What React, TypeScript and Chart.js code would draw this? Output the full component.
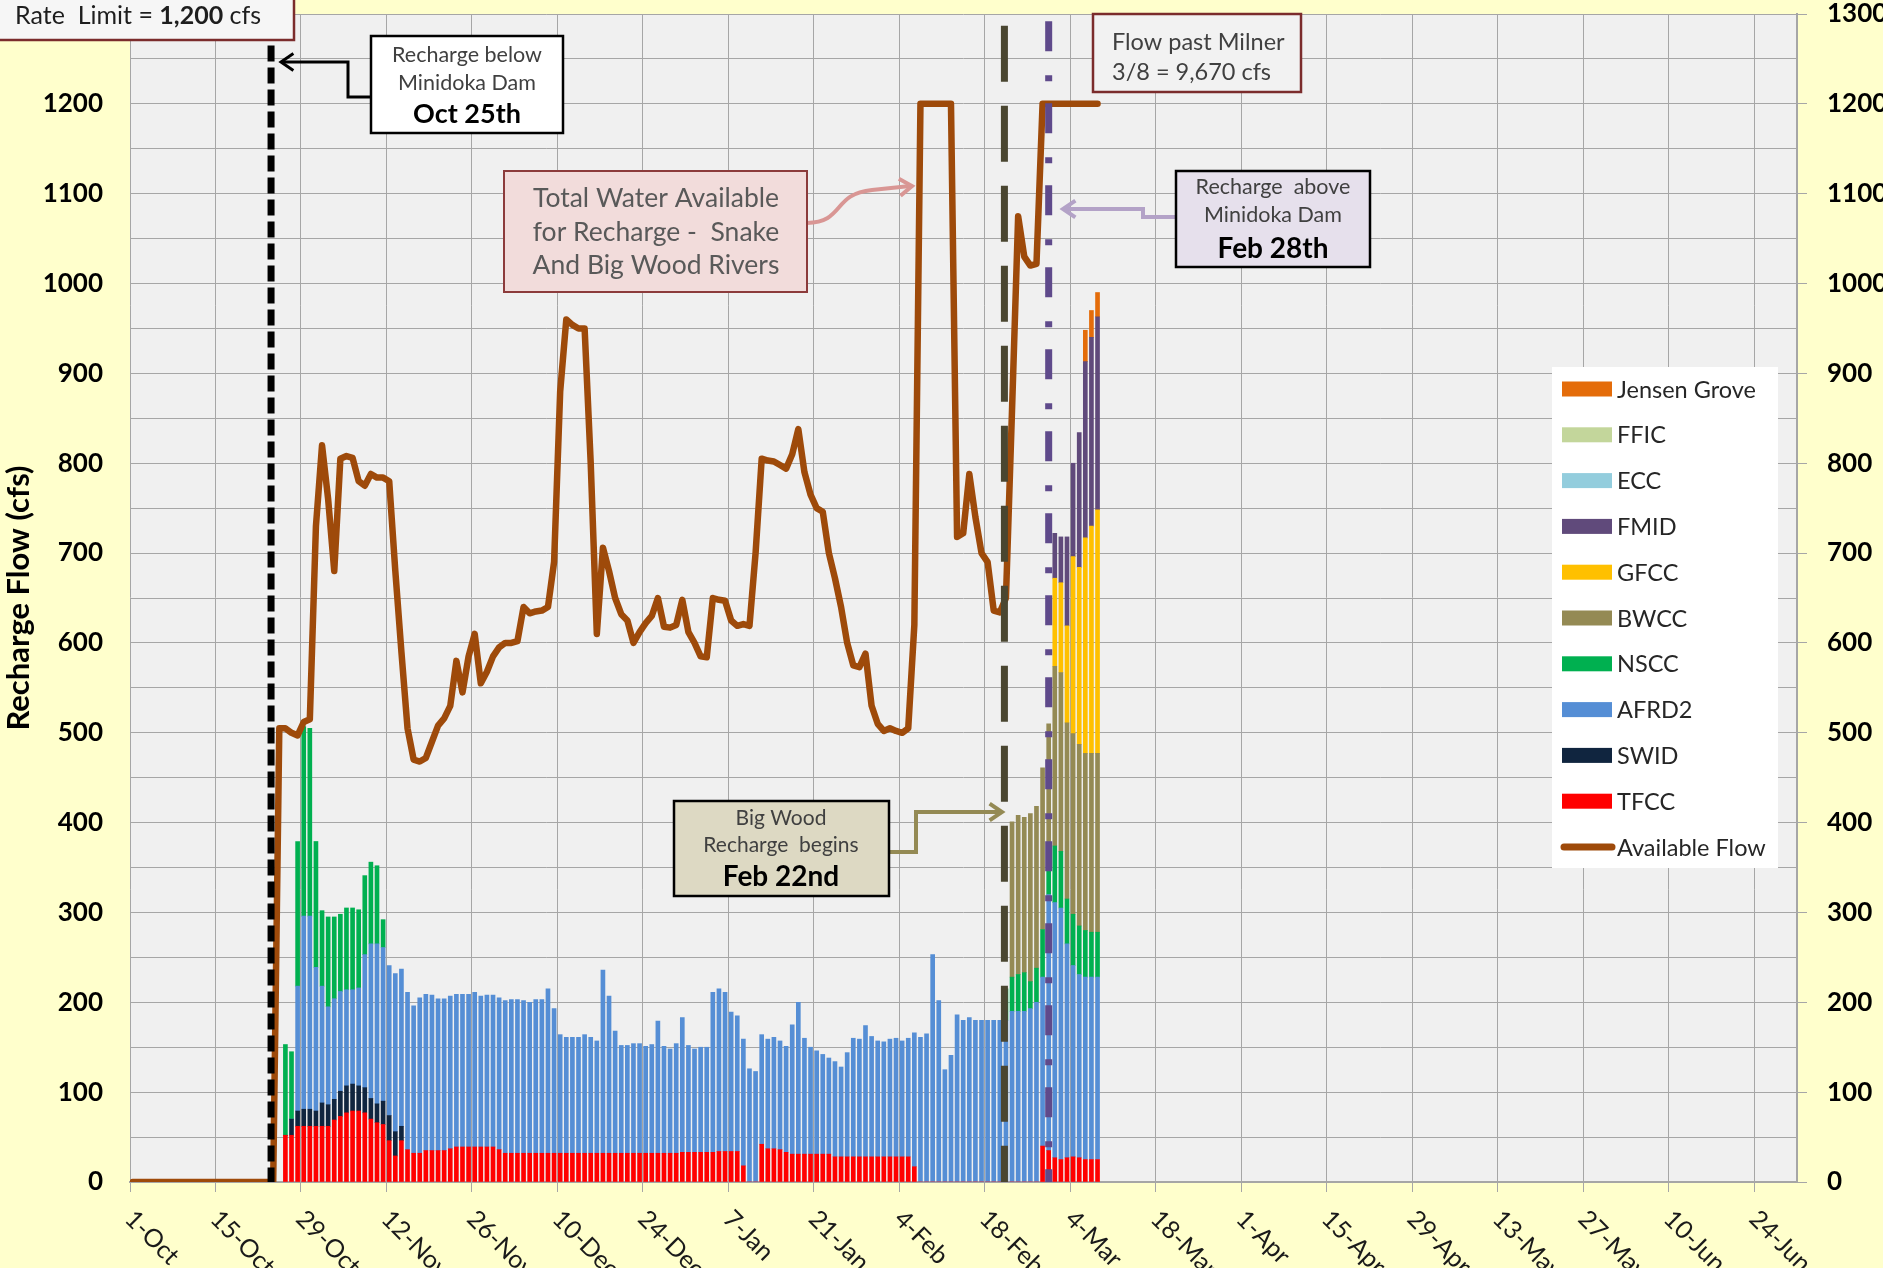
import { useEffect, useRef } from 'react';
import { Chart, registerables } from 'chart.js';

Chart.register(...registerables);

const W = 1883;
const H = 1268;
const FONT = 'Lato, "Open Sans", sans-serif';

// ---------- axes ----------
const X_MAX_DAY = 273; // days after 1-Oct (axis ends at 1-Jul)
const TICK_STEP_DAYS = 14;
const TICK_LABELS = ['1-Oct', '15-Oct', '29-Oct', '12-Nov', '26-Nov', '10-Dec', '24-Dec', '7-Jan', '21-Jan', '4-Feb', '18-Feb', '4-Mar', '18-Mar', '1-Apr', '15-Apr', '29-Apr', '13-May', '27-May', '10-Jun', '24-Jun'];
const Y_MAX = 1300;
const DAY_CENTER = 0.45;

// ---------- daily recharge (cfs), bars start 26-Oct (day 25) ----------
const BAR_START_DAY = 25;
const TFCC = [
  52, 52, 62, 62, 62, 62, 62, 62, 69, 73,
  77, 79, 79, 77, 70, 66, 64, 46, 29, 46,
  36, 32, 32, 35, 35, 35, 35, 37, 39, 39,
  39, 39, 39, 39, 39, 36, 32, 32, 32, 32,
  32, 32, 32, 32, 32, 32, 32, 32, 32, 32,
  32, 32, 32, 32, 32, 32, 32, 32, 32, 32,
  32, 32, 32, 32, 32, 33, 33, 33, 33, 33,
  33, 34, 34, 34, 34, 18, 0, 0, 42, 37,
  37, 36, 33, 31, 31, 31, 31, 31, 31, 31,
  28, 28, 28, 28, 28, 28, 28, 28, 28, 28,
  28, 28, 28, 17, 0, 0, 0, 0, 0, 0,
  0, 0, 0, 0, 0, 0, 0, 0, 0, 0,
  0, 0, 0, 0, 40, 35, 27, 25, 27, 28,
  27, 25, 25, 25,
];
const SWID = [0, 18, 17, 19, 19, 17, 26, 24, 23, 28, 30, 30, 28, 28, 23, 21, 26, 28, 27, 16];
const AFRD2 = [
  0, 0, 139, 215, 215, 160, 130, 109, 112, 111,
  107, 105, 109, 148, 172, 178, 171, 167, 176, 175,
  175, 164, 173, 174, 173, 169, 169, 170, 170, 170,
  170, 172, 168, 169, 169, 169, 170, 171, 171, 170,
  168, 171, 171, 183, 161, 132, 129, 129, 129, 132,
  129, 125, 204, 175, 136, 120, 120, 122, 122, 119,
  121, 147, 119, 116, 122, 150, 119, 115, 117, 117,
  178, 181, 177, 155, 151, 141, 126, 123, 122, 122,
  124, 121, 118, 144, 169, 129, 119, 115, 111, 107,
  106, 100, 116, 132, 131, 146, 134, 129, 128, 131,
  132, 129, 132, 149, 161, 165, 253, 202, 125, 141,
  186, 180, 183, 180, 180, 180, 180, 180, 180, 190,
  190, 190, 193, 200, 188, 285, 284, 280, 238, 213,
  204, 203, 203, 203,
];
const NSCC_EARLY = [101, 75, 161, 211, 209, 140, 84, 100, 91, 86, 91, 91, 87, 88, 91, 87, 31];
const NSCC_LATE_START_DAY = 143;
const NSCC_LATE = [35, 38, 41, 43, 30, 38, 53, 45, 63, 63, 50, 57, 54, 52, 50, 50];
const BWCC_START_DAY = 144;
const BWCC = [173, 177, 173, 187, 180, 180, 145, 200, 199, 196, 201, 202, 197, 199, 199];
const GFCC_START_DAY = 151;
const GFCC = [98, 100, 108, 197, 197, 240, 253, 271];
const FMID_START_DAY = 151;
const FMID = [50, 51, 99, 104, 150, 196, 210, 215];
const ECC: number[] = [];
const FFIC: number[] = [];
const JENSEN_START_DAY = 156;
const JENSEN_GROVE = [35, 30, 27];

// ---------- available flow (cfs), from 1-Oct (day 0) ----------
const FLOW_START_DAY = 0;
const AVAILABLE_FLOW = [
  0, 0, 0, 0, 0, 0, 0, 0, 0, 0, 0, 0, 0, 0, 0, 0, 0, 0, 0, 0, 0, 0, 0, 0,
  505, 505, 500, 497, 512, 515, 730, 820, 760, 680,
  805, 808, 806, 780, 775, 788, 784, 784, 780, 680,
  590, 505, 470, 468, 472, 490, 508, 516, 530, 580,
  545, 585, 610, 555, 568, 585, 595, 600, 600, 602,
  640, 633, 635, 636, 640, 690, 880, 960, 954, 950,
  950, 800, 610, 706, 680, 650, 632, 625, 600, 612,
  622, 630, 650, 618, 617, 620, 648, 612, 600, 585,
  584, 650, 648, 647, 625, 619, 621, 619, 700, 805,
  803, 802, 798, 794, 810, 838, 790, 765, 750, 746,
  700, 672, 640, 600, 575, 573, 588, 530, 510, 502,
  505, 502, 500, 505, 620, 1200, 1200, 1200, 1200, 1200,
  1200, 718, 722, 788, 740, 700, 690, 636, 634, 650,
  860, 1075, 1030, 1020, 1022, 1200, 1200, 1200, 1200, 1200,
  1200, 1200, 1200, 1200, 1200,
];

// ---------- event markers (day after 1-Oct) ----------
const EVENT_LINES = [
  { day: 23.1, top: 1265, color: '#000000', width: 7, dash: [16, 6] },
  { day: 143.2, top: 1287, color: '#4A4630', width: 7, dash: [56, 24] },
  { day: 150.45, top: 1292, color: '#5F4A8B', width: 7, dash: [30, 24, 6, 22] },
];

function pts(start: number, values: number[]) {
  return values.map((v, i) => ({ x: start + i + DAY_CENTER, y: v }));
}

function bar(label: string, color: string, data: { x: number; y: number }[]) {
  return {
    type: 'bar' as const,
    label,
    data,
    backgroundColor: color,
    borderWidth: 0,
    barThickness: 4,
    xAxisID: 'x',
    yAxisID: 'y',
    order: 1,
  };
}

function drawText(ctx: CanvasRenderingContext2D, s: string, x: number, y: number, size: number, bold: boolean, color: string, align: CanvasTextAlign = 'center') {
  ctx.font = `${bold ? 'bold ' : ''}${size}px ${FONT}`;
  ctx.fillStyle = color;
  ctx.textAlign = align;
  ctx.textBaseline = 'middle';
  ctx.fillText(s, x, y);
}

function drawBox(ctx: CanvasRenderingContext2D, x: number, y: number, w: number, h: number, fill: string, stroke: string, lw: number) {
  ctx.fillStyle = fill;
  ctx.fillRect(x, y, w, h);
  ctx.strokeStyle = stroke;
  ctx.lineWidth = lw;
  ctx.setLineDash([]);
  ctx.strokeRect(x, y, w, h);
}

function arrowHead(ctx: CanvasRenderingContext2D, tx: number, ty: number, angle: number, len: number) {
  ctx.beginPath();
  ctx.moveTo(tx - len * Math.cos(angle - 0.6), ty - len * Math.sin(angle - 0.6));
  ctx.lineTo(tx, ty);
  ctx.lineTo(tx - len * Math.cos(angle + 0.6), ty - len * Math.sin(angle + 0.6));
  ctx.stroke();
}

const backgroundPlugin = {
  id: 'bgPlot',
  beforeDraw(chart: any) {
    const { ctx, chartArea: a } = chart;
    ctx.save();
    ctx.fillStyle = '#FFFFCC';
    ctx.fillRect(0, 0, chart.width, chart.height);
    ctx.fillStyle = '#F0F0F0';
    ctx.fillRect(a.left, a.top, a.right - a.left, a.bottom - a.top);
    ctx.restore();
  },
};

const eventLinesPlugin = {
  id: 'eventLines',
  afterDatasetsDraw(chart: any) {
    const { ctx } = chart;
    const xs = chart.scales.x;
    const ys = chart.scales.y;
    for (const ev of EVENT_LINES) {
      const x = xs.getPixelForValue(ev.day);
      ctx.save();
      ctx.strokeStyle = ev.color;
      ctx.lineWidth = ev.width;
      ctx.setLineDash(ev.dash);
      ctx.beginPath();
      ctx.moveTo(x, ys.getPixelForValue(ev.top));
      ctx.lineTo(x, ys.getPixelForValue(0));
      ctx.stroke();
      ctx.restore();
    }
  },
};

const overlayPlugin = {
  id: 'overlay',
  afterDraw(chart: any) {
    const { ctx } = chart;
    const xs = chart.scales.x;
    ctx.save();

    // rotated x tick labels
    const axisY = xs.top;
    TICK_LABELS.forEach((lab, i) => {
      const x = xs.getPixelForValue(i * TICK_STEP_DAYS);
      ctx.save();
      ctx.translate(x + 8, axisY + 24);
      ctx.rotate(Math.PI / 4);
      ctx.font = `25px ${FONT}`;
      ctx.fillStyle = '#1A1A1A';
      ctx.textAlign = 'left';
      ctx.textBaseline = 'top';
      ctx.fillText(lab, 0, 0);
      ctx.restore();
    });

    // connectors
    ctx.lineCap = 'butt';
    ctx.lineJoin = 'miter';
    ctx.setLineDash([]);
    // Oct 25 (black)
    ctx.strokeStyle = '#000000';
    ctx.lineWidth = 3;
    ctx.beginPath();
    ctx.moveTo(371, 97); ctx.lineTo(348, 97); ctx.lineTo(348, 62); ctx.lineTo(282, 62);
    ctx.stroke();
    arrowHead(ctx, 281, 62, Math.PI, 15);
    // Total water (pink curve)
    ctx.strokeStyle = '#D99694';
    ctx.lineWidth = 4;
    ctx.beginPath();
    ctx.moveTo(807, 223);
    ctx.bezierCurveTo(845, 222, 832, 194, 872, 190);
    ctx.lineTo(910, 186);
    ctx.stroke();
    arrowHead(ctx, 912, 186, -0.1, 15);
    // Feb 28 (lavender)
    ctx.strokeStyle = '#B3A2C7';
    ctx.lineWidth = 4;
    ctx.beginPath();
    ctx.moveTo(1176, 217); ctx.lineTo(1143, 217); ctx.lineTo(1143, 209); ctx.lineTo(1065, 209);
    ctx.stroke();
    arrowHead(ctx, 1063, 209, Math.PI, 15);
    // Feb 22 (olive)
    ctx.strokeStyle = '#948A54';
    ctx.lineWidth = 4;
    ctx.beginPath();
    ctx.moveTo(889, 852); ctx.lineTo(916, 852); ctx.lineTo(916, 812); ctx.lineTo(1000, 812);
    ctx.stroke();
    arrowHead(ctx, 1002, 812, 0, 15);

    // boxes
    drawBox(ctx, -2, -3, 296, 43, '#F6F6F6', '#7B2C2C', 2.5);
    let tx = 15;
    const parts: [string, boolean][] = [['Rate  Limit = ', false], ['1,200', true], [' cfs', false]];
    for (const [s, b] of parts) {
      drawText(ctx, s, tx, 16, 25, b, '#1E1E1E', 'left');
      tx += ctx.measureText(s).width;
    }

    drawBox(ctx, 371, 36, 192, 97, '#FFFFFF', '#000000', 2.5);
    drawText(ctx, 'Recharge below', 467, 55, 21.5, false, '#404040');
    drawText(ctx, 'Minidoka Dam', 467, 83, 21.5, false, '#404040');
    drawText(ctx, 'Oct 25th', 467, 114, 27, true, '#000000');

    drawBox(ctx, 504, 171, 303, 121, '#F2DCDB', '#8C3B3B', 2);
    drawText(ctx, 'Total Water Available', 656, 198, 26.5, false, '#595959');
    drawText(ctx, 'for Recharge -  Snake', 656, 232, 26.5, false, '#595959');
    drawText(ctx, 'And Big Wood Rivers', 656, 265, 26.5, false, '#595959');

    drawBox(ctx, 1093, 14, 208, 78, '#F2F2F2', '#7B2C2C', 2.5);
    drawText(ctx, 'Flow past Milner', 1112, 42, 23.5, false, '#404040', 'left');
    drawText(ctx, '3/8 = 9,670 cfs', 1112, 72, 23.5, false, '#404040', 'left');

    drawBox(ctx, 1176, 171, 194, 96, '#E6E0EC', '#000000', 2.5);
    drawText(ctx, 'Recharge  above', 1273, 187, 21.5, false, '#404040');
    drawText(ctx, 'Minidoka Dam', 1273, 215, 21.5, false, '#404040');
    drawText(ctx, 'Feb 28th', 1273, 249, 28, true, '#000000');

    drawBox(ctx, 674, 801, 215, 95, '#DDD9C3', '#000000', 2.5);
    drawText(ctx, 'Big Wood', 781, 818, 21, false, '#404040');
    drawText(ctx, 'Recharge  begins', 781, 845, 21, false, '#404040');
    drawText(ctx, 'Feb 22nd', 781, 877, 28, true, '#000000');

    // legend
    ctx.fillStyle = '#FFFFFF';
    ctx.fillRect(1552, 367, 226, 501);
    const ds = chart.data.datasets;
    const barSets = ds.filter((d: any) => d.type === 'bar').slice().reverse();
    const lineSets = ds.filter((d: any) => d.type === 'line');
    const items = [...barSets, ...lineSets];
    items.forEach((d: any, k: number) => {
      const cy = 389 + k * 45.8;
      if (d.type === 'bar') {
        ctx.fillStyle = d.backgroundColor;
        ctx.fillRect(1562, cy - 7.5, 50, 15);
      } else {
        ctx.strokeStyle = d.borderColor;
        ctx.lineWidth = 7;
        ctx.lineCap = 'round';
        ctx.beginPath();
        ctx.moveTo(1564, cy);
        ctx.lineTo(1612, cy);
        ctx.stroke();
      }
      drawText(ctx, d.label, 1617, cy + 1, 23.5, false, '#262626', 'left');
    });

    ctx.restore();
  },
};

export default function App() {
  const ref = useRef<HTMLCanvasElement>(null);

  useEffect(() => {
    const canvas = ref.current;
    if (!canvas) return;

    const datasets: any[] = [
      {
        type: 'line',
        label: 'Available Flow',
        data: pts(FLOW_START_DAY, AVAILABLE_FLOW),
        borderColor: '#9E4A0A',
        backgroundColor: '#9E4A0A',
        borderWidth: 6.5,
        pointRadius: 0,
        tension: 0,
        fill: false,
        borderJoinStyle: 'round',
        borderCapStyle: 'round',
        xAxisID: 'x',
        yAxisID: 'y2',
        order: -1,
      },
      bar('TFCC', '#FF0000', pts(BAR_START_DAY, TFCC)),
      bar('SWID', '#10253F', pts(BAR_START_DAY, SWID)),
      bar('AFRD2', '#558ED5', pts(BAR_START_DAY, AFRD2)),
      bar('NSCC', '#00B050', [...pts(BAR_START_DAY, NSCC_EARLY), ...pts(NSCC_LATE_START_DAY, NSCC_LATE)]),
      bar('BWCC', '#948A54', pts(BWCC_START_DAY, BWCC)),
      bar('GFCC', '#FFC000', pts(GFCC_START_DAY, GFCC)),
      bar('FMID', '#604A7B', pts(FMID_START_DAY, FMID)),
      bar('ECC', '#93CDDD', pts(BAR_START_DAY, ECC)),
      bar('FFIC', '#C3D69B', pts(BAR_START_DAY, FFIC)),
      bar('Jensen Grove', '#E46C0A', pts(JENSEN_START_DAY, JENSEN_GROVE)),
    ];

    const tickFont = { family: FONT, size: 26, weight: 'bold' as const };
    const noPad = (scale: any) => {
      scale.paddingTop = 0;
      scale.paddingBottom = 0;
      scale.paddingLeft = 0;
      scale.paddingRight = 0;
    };

    const chart = new Chart(canvas, {
      type: 'bar',
      data: { datasets },
      options: {
        responsive: false,
        animation: false,
        devicePixelRatio: 1,
        layout: { padding: { top: 14, left: 0, right: 0, bottom: 0 } },
        plugins: {
          legend: { display: false },
          tooltip: { enabled: false },
          title: { display: false },
        },
        scales: {
          x: {
            type: 'linear',
            min: 0,
            max: X_MAX_DAY,
            stacked: true,
            offset: false,
            afterBuildTicks: (scale: any) => {
              scale.ticks = TICK_LABELS.map((_, i) => ({ value: i * TICK_STEP_DAYS }));
            },
            afterFit: (scale: any) => {
              scale.height = H - 1182;
              noPad(scale);
            },
            ticks: { display: true, autoSkip: false, maxRotation: 0, callback: () => '' },
            grid: { offset: false, color: '#A6A6A6', lineWidth: 1, drawTicks: true, tickLength: 10, tickColor: '#A6A6A6' },
            border: { color: '#A6A6A6', width: 2 },
          },
          y: {
            type: 'linear',
            position: 'left',
            min: 0,
            max: Y_MAX,
            stacked: true,
            afterFit: (scale: any) => {
              scale.width = 130;
              noPad(scale);
            },
            ticks: {
              stepSize: 50,
              autoSkip: false,
              padding: 27,
              color: '#000000',
              font: tickFont,
              callback: (v: any) => (Number(v) % 100 === 0 ? String(v) : ''),
            },
            grid: { offset: false, color: '#A6A6A6', lineWidth: 1, drawTicks: false },
            border: { display: false },
            title: {
              display: true,
              text: 'Recharge Flow (cfs)',
              color: '#000000',
              font: { family: FONT, size: 31, weight: 'bold' },
              padding: { top: 0, bottom: 0 },
            },
          },
          y2: {
            type: 'linear',
            position: 'right',
            min: 0,
            max: Y_MAX,
            afterFit: (scale: any) => {
              scale.width = W - 1797;
              noPad(scale);
            },
            ticks: { stepSize: 100, autoSkip: false, padding: 20, color: '#000000', font: tickFont, callback: (v: any) => String(v) },
            grid: { drawOnChartArea: false, drawTicks: true, tickLength: 10, color: '#A6A6A6' },
            border: { color: '#A6A6A6', width: 2 },
          },
        },
      } as any,
      plugins: [backgroundPlugin, eventLinesPlugin, overlayPlugin],
    });

    return () => chart.destroy();
  }, []);

  return (
    <div style={{ position: 'absolute', left: 0, top: 0, width: W, height: H, background: '#FFFFCC', overflow: 'hidden' }}>
      <canvas ref={ref} width={W} height={H} style={{ display: 'block', width: W, height: H }} />
    </div>
  );
}
